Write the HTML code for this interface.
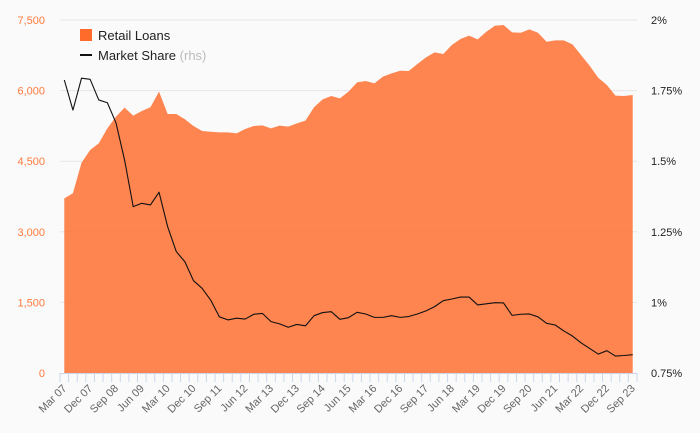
<!DOCTYPE html>
<html><head><meta charset="utf-8"><style>
html,body{margin:0;padding:0;background:#fafafa;}
svg{display:block;font-family:"Liberation Sans",sans-serif;}
</style></head><body>
<svg id="chart" width="700" height="433">
<rect width="700" height="433" fill="#fafafa"/>
<g id="grid"></g>
<g id="area"></g>
<g id="line"></g>
<g id="xaxis"></g>
<g id="yleft"></g>
<g id="yright"></g>
<g>
<rect x="80" y="29" width="12" height="12" fill="#ff6b2b"/>
<text x="98" y="40" font-size="13" fill="#222">Retail Loans</text>
<rect x="80" y="54" width="12" height="2" fill="#111"/>
<text x="98" y="60" font-size="13" fill="#222">Market Share <tspan fill="#bbb">(rhs)</tspan></text>
</g>
</svg>
<script>
const quarterLabels=["Mar 07","Dec 07","Sep 08","Jun 09","Mar 10","Dec 10","Sep 11","Jun 12","Mar 13","Dec 13","Sep 14","Jun 15","Mar 16","Dec 16","Sep 17","Jun 18","Mar 19","Dec 19","Sep 20","Jun 21","Mar 22","Dec 22","Sep 23"];
const retailLoans=[3711,3818,4468,4737,4880,5198,5446,5637,5467,5566,5645,5977,5503,5503,5390,5248,5141,5127,5113,5113,5092,5184,5248,5262,5198,5255,5234,5304,5361,5645,5814,5885,5835,5977,6176,6203,6154,6296,6367,6423,6416,6565,6707,6813,6777,6968,7096,7167,7088,7251,7378,7393,7238,7230,7301,7230,7039,7068,7068,6983,6756,6529,6274,6118,5892,5885,5906];
const marketShare=[1.7875,1.681,1.794,1.790,1.717,1.707,1.636,1.504,1.339,1.351,1.345,1.390,1.268,1.180,1.144,1.077,1.050,1.008,0.949,0.938,0.944,0.941,0.958,0.961,0.932,0.924,0.912,0.922,0.917,0.953,0.964,0.967,0.940,0.946,0.965,0.959,0.947,0.947,0.953,0.947,0.950,0.959,0.970,0.985,1.006,1.012,1.019,1.019,0.991,0.995,0.999,0.998,0.954,0.958,0.959,0.949,0.926,0.920,0.899,0.881,0.857,0.837,0.817,0.829,0.810,0.812,0.815];
const leftTicks=[0,1500,3000,4500,6000,7500];
const rightTicks=[0.75,1,1.25,1.5,1.75,2];
const rightTickLabels=["0.75%","1%","1.25%","1.5%","1.75%","2%"];

const NS="http://www.w3.org/2000/svg";
const X0=60,X1=637,Y0=373,Y1=20;
const n=retailLoans.length;
const bw=(X1-X0)/n;
const x=i=>X0+bw*(i+0.5);
const yL=v=>Y0-(v-0)/(7500-0)*(Y0-Y1);
const yR=v=>Y0-(v-0.75)/(2-0.75)*(Y0-Y1);
function mk(tag,attrs,parent){const e=document.createElementNS(NS,tag);for(const k in attrs)e.setAttribute(k,attrs[k]);parent.appendChild(e);return e;}

const grid=document.getElementById('grid');
leftTicks.forEach((t,i)=>{if(t===0)return;
 const l=mk('line',{x1:X0,x2:X1,y1:yL(t),y2:yL(t),stroke:'#e6e6e6','stroke-width':1},grid);
 
 
});
const yl=document.getElementById('yleft');
leftTicks.forEach(t=>{
 const tx=mk('text',{x:45,y:yL(t)+4,'text-anchor':'end','font-size':11,fill:'#ff7a3d'},yl);
 tx.textContent=t.toLocaleString('en-US');
 
 
});
const yr=document.getElementById('yright');
rightTicks.forEach((t,i)=>{
 const tx=mk('text',{x:651,y:yR(t)+4,'font-size':11,fill:'#222'},yr);
 tx.textContent=rightTickLabels[i];
 
 
});

let d='M'+x(0)+','+Y0;
retailLoans.forEach((v,i)=>{d+=' L'+x(i)+','+yL(v);});
d+=' L'+x(n-1)+','+Y0+' Z';
const ar=mk('path',{d:d,fill:'#ff6b2b','fill-opacity':0.82},document.getElementById('area'));



const pts=marketShare.map((v,i)=>x(i)+','+yR(v)).join(' ');
const pl=mk('polyline',{points:pts,fill:'none',stroke:'#111','stroke-width':1.1,'stroke-linejoin':'round'},document.getElementById('line'));



const xa=document.getElementById('xaxis');
const al=mk('line',{x1:X0,x2:X1,y1:Y0+0.5,y2:Y0+0.5,stroke:'#ccd6eb','stroke-width':1},xa);


for(let i=0;i<=n;i++){
 const tx=X0+bw*i;
 const tk=mk('line',{x1:tx,x2:tx,y1:Y0,y2:Y0+9,stroke:'#ccd6eb','stroke-width':1},xa);
 
 
}
quarterLabels.forEach((lab,j)=>{
 const i=j*3;const px=x(i)+3,py=Y0+16;
 const t=mk('text',{x:px,y:py,'text-anchor':'end','font-size':11,fill:'#666',transform:'rotate(-45 '+px+' '+py+')'},xa);
 t.textContent=lab;
 
 
});
</script>
</body></html>
